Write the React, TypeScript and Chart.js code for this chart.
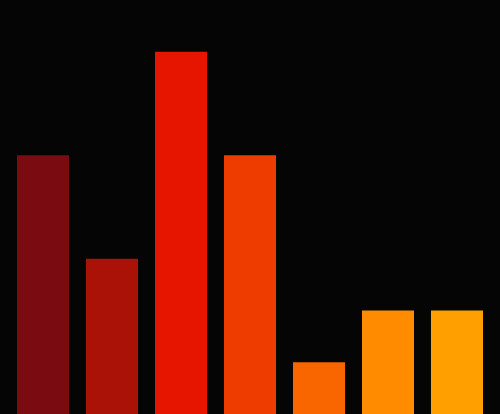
import React, { useEffect, useRef } from "react";
import { Chart, registerables } from "chart.js";

Chart.register(...registerables);

const categories = ["A", "B", "C", "D", "E", "F", "G"];
const values = [5, 3, 7, 5, 1, 2, 2];
const colors = ["#7a0b11", "#aa1207", "#e51500", "#ee3c00", "#f96600", "#ff8c00", "#ffa000"];
const yMin = 0;
const yMax = 8;

export default function App() {
  const ref = useRef<HTMLCanvasElement | null>(null);

  useEffect(() => {
    document.body.style.margin = "0";
    document.body.style.background = "#050505";
    const canvas = ref.current;
    if (!canvas) return;
    const chart = new Chart(canvas, {
      type: "bar",
      data: {
        labels: categories,
        datasets: [
          {
            data: values,
            backgroundColor: colors,
            borderWidth: 0,
            categoryPercentage: 1,
            barPercentage: 0.754,
          },
        ],
      },
      options: {
        animation: false,
        responsive: false,
        maintainAspectRatio: false,
        layout: { padding: { left: 8.5, right: 8.5, top: 0, bottom: 0 } },
        plugins: { legend: { display: false }, tooltip: { enabled: false } },
        scales: {
          x: { display: false },
          y: { display: false, min: yMin, max: yMax },
        },
      },
    });
    return () => chart.destroy();
  }, []);

  return (
    <div style={{ width: 500, height: 414, background: "#050505" }}>
      <canvas ref={ref} width={500} height={414} style={{ display: "block" }} />
    </div>
  );
}
